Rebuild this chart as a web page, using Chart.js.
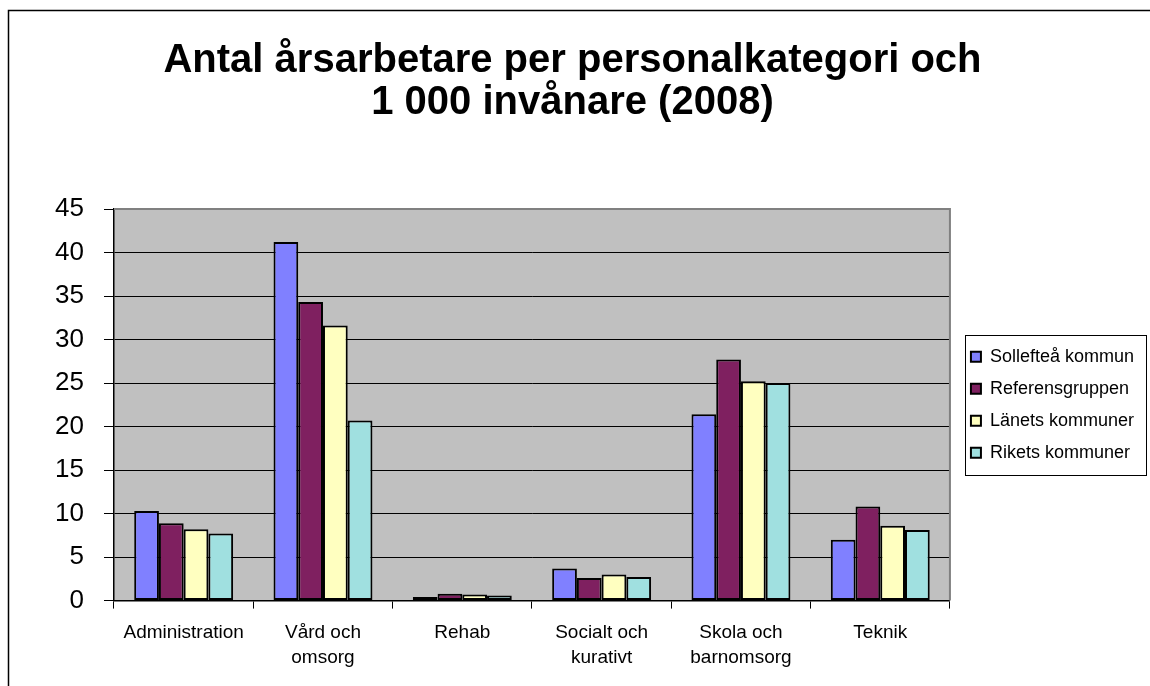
<!DOCTYPE html>
<html>
<head>
<meta charset="utf-8">
<script src="https://cdn.jsdelivr.net/npm/chart.js@4.4.1/dist/chart.umd.min.js"></script>
<style>
  html, body { margin: 0; padding: 0; background: #fff; }
  canvas { display: block; }
</style>
</head>
<body>
<canvas id="myChart" width="1150" height="686"></canvas>
<script>
// values
const categories = [
  'Administration',
  ['Vård och', 'omsorg'],
  'Rehab',
  ['Socialt och', 'kurativt'],
  ['Skola och', 'barnomsorg'],
  'Teknik'
];
const seriesNames = ['Sollefteå kommun', 'Referensgruppen', 'Länets kommuner', 'Rikets kommuner'];
const sollefteå = [10.3, 41.2, 0.4, 3.7, 21.4, 7.0];
const referensgruppen = [8.9, 34.3, 0.8, 2.6, 27.7, 10.8];
const lanets = [8.2, 31.6, 0.7, 3.0, 25.2, 8.6];
const rikets = [7.7, 20.7, 0.6, 2.7, 25.0, 8.1];
const yTicks = [0, 5, 10, 15, 20, 25, 30, 35, 40, 45];

const colors = ['#8080FF', '#7F2060', '#FFFFC0', '#A0E0E0'];
const font = '"Liberation Sans", Arial, sans-serif';

// grey plot area, grey top/right border, outer frame, legend box
const decor = {
  id: 'decor',
  afterLayout(chart) {
    // small gap between plot and legend
    chart.legend.left += 7;
    chart.legend.right += 7;
  },
  beforeDraw(chart) {
    const a = chart.chartArea, ctx = chart.ctx;
    ctx.save();
    ctx.fillStyle = '#C0C0C0';
    ctx.fillRect(a.left, a.top, a.right - a.left, a.bottom - a.top);
    ctx.restore();
  },
  afterDraw(chart) {
    const a = chart.chartArea, ctx = chart.ctx;
    ctx.save();
    ctx.strokeStyle = '#808080';
    ctx.lineWidth = 2;
    ctx.beginPath();
    ctx.moveTo(a.left, a.top);
    ctx.lineTo(a.right, a.top);
    ctx.lineTo(a.right, a.bottom);
    ctx.stroke();

    // outer frame (left and top only)
    ctx.strokeStyle = '#000';
    ctx.lineWidth = 1.5;
    ctx.beginPath();
    ctx.moveTo(8.5, 686);
    ctx.lineTo(8.5, 10.5);
    ctx.lineTo(1150, 10.5);
    ctx.stroke();

    // legend border
    const boxes = chart.legend.legendHitBoxes;
    if (boxes && boxes.length) {
      let x0 = Infinity, y0 = Infinity, x1 = -Infinity, y1 = -Infinity;
      boxes.forEach(b => {
        x0 = Math.min(x0, b.left); y0 = Math.min(y0, b.top);
        x1 = Math.max(x1, b.left + b.width); y1 = Math.max(y1, b.top + b.height);
      });
      ctx.strokeStyle = '#000';
      ctx.lineWidth = 1;
      ctx.strokeRect(Math.round(x0 - 6) + 0.5, Math.round(y0 - 13) + 0.5,
        Math.round(x1 - x0 + 18), Math.round(y1 - y0 + 26));
    }
    ctx.restore();
  }
};

const ctx = document.getElementById('myChart').getContext('2d');

const myChart = new Chart(ctx, {
  type: 'bar',
  data: {
    labels: categories,
    datasets: [sollefteå, referensgruppen, lanets, rikets].map((d, i) => ({
      label: seriesNames[i],
      data: d,
      backgroundColor: colors[i],
      borderColor: '#000',
      borderWidth: 2,
      borderSkipped: false,
      categoryPercentage: 0.71,
      barPercentage: 1.0
    }))
  },
  options: {
    responsive: false,
    animation: false,
    devicePixelRatio: 1,
    layout: { padding: { left: 8, right: 13, top: 0, bottom: 4 } },
    plugins: {
      tooltip: { enabled: false },
      title: {
        display: true,
        text: ['Antal årsarbetare per personalkategori och', '1 000 invånare (2008)'],
        color: '#000',
        font: { family: font, size: 40, weight: 'bold', lineHeight: 1.05 },
        padding: { top: 40, bottom: 85 }
      },
      legend: {
        display: true,
        position: 'right',
        fullSize: false,
        labels: {
          color: '#000',
          font: { family: font, size: 18 },
          boxWidth: 10,
          boxHeight: 10,
          padding: 14,
          useBorderRadius: false
        }
      }
    },
    scales: {
      x: {
        offset: true,
        grid: {
          offset: true,
          drawOnChartArea: false,
          drawTicks: true,
          tickLength: 8,
          color: '#000'
        },
        border: { color: '#000', width: 1.5 },
        ticks: {
          color: '#000',
          font: { family: font, size: 19, lineHeight: 1.3 },
          padding: 12,
          maxRotation: 0,
          autoSkip: false
        }
      },
      y: {
        min: 0,
        max: 45,
        afterFit(scale) { scale.width = 106; },
        afterBuildTicks(scale) { scale.ticks = yTicks.map(v => ({ value: v })); },
        grid: {
          color: ctx => (ctx.tick && ctx.tick.value === 45 ? 'rgba(0,0,0,0)' : '#000'),
          tickColor: '#000',
          tickLength: 10,
          lineWidth: 1
        },
        border: { color: '#000', width: 1.5 },
        ticks: {
          color: '#000',
          font: { family: font, size: 26 },
          padding: 20
        }
      }
    }
  },
  plugins: [decor]
});
</script>
</body>
</html>
